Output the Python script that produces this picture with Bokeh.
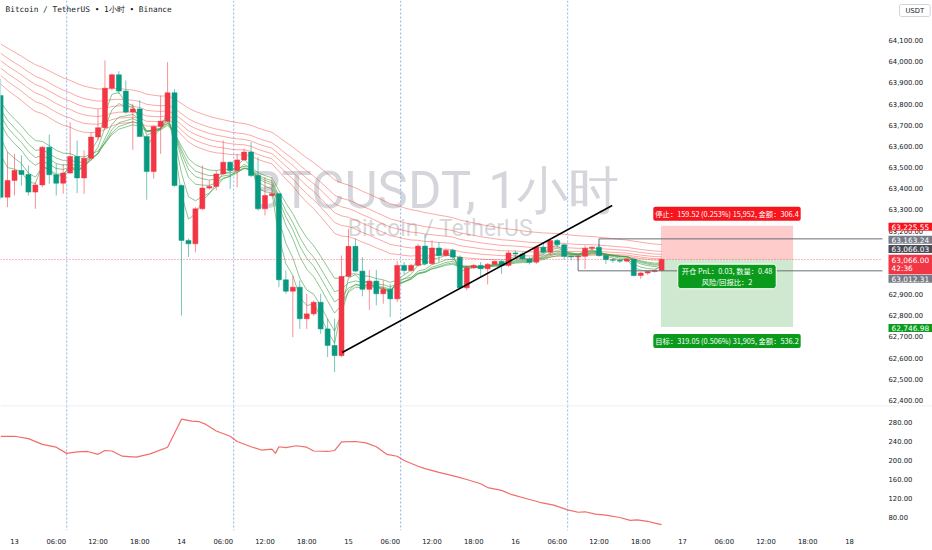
from bokeh.plotting import figure
from bokeh.models import (
    ColumnDataSource, Label, Span, Range1d, FixedTicker,
    NumeralTickFormatter,
)
from bokeh.layouts import column
from bokeh.embed import file_html
from bokeh.resources import INLINE


# ── Data (1h candles, hour 0 = day 13 00:00) ─────────────────────
hours = list(range(-2, 94))
opens = [
    63840, 63360, 63439, 63486, 63467, 63384, 63418, 63596, 63466, 63426, 63474, 63552,
    63451, 63544, 63644, 63688, 63875, 63938, 63861, 63762, 63777, 63647, 63481, 63694,
    63719, 63853, 63415, 63156, 63140, 63305, 63403, 63411, 63470, 63525, 63486, 63536,
    63573, 63462, 63305, 63368, 63376, 62970, 62916, 62935, 62786, 62809, 62864, 62738,
    62660, 62612, 62986, 63128, 63011, 62925, 62964, 62904, 62925, 62880, 63038, 63014,
    63038, 63129, 63046, 63120, 63085, 63109, 63077, 62932, 63027, 63038, 63022, 63043,
    63057, 63038, 63097, 63092, 63069, 63053, 63124, 63100, 63155, 63135, 63081, 63078,
    63081, 63119, 63124, 63084, 63065, 63062, 63058, 63068, 62990, 63002, 63009, 63014,
]
highs = [
    63920, 63573, 63565, 63557, 63510, 63431, 63600, 63656, 63518, 63518, 63714, 63628,
    63581, 63667, 63777, 64006, 63943, 63955, 63911, 63801, 63817, 63651, 63699, 63840,
    63998, 63870, 63420, 63165, 63313, 63510, 63439, 63486, 63628, 63530, 63565, 63588,
    63620, 63549, 63455, 63455, 63380, 63014, 62990, 62967, 62904, 62872, 62904, 62786,
    62786, 63085, 63211, 63164, 63077, 63017, 63017, 62967, 62950, 63058, 63054, 63045,
    63140, 63184, 63156, 63148, 63117, 63117, 63085, 63038, 63046, 63054, 63049, 63062,
    63062, 63108, 63108, 63100, 63077, 63131, 63147, 63163, 63163, 63140, 63085, 63090,
    63132, 63128, 63140, 63090, 63072, 63070, 63072, 63070, 63008, 63012, 63018, 63070,
]
lows = [
    63350, 63313, 63368, 63415, 63368, 63305, 63407, 63423, 63368, 63376, 63470, 63379,
    63376, 63533, 63628, 63683, 63864, 63848, 63754, 63584, 63644, 63348, 63447, 63565,
    63714, 63410, 62801, 63077, 63100, 63300, 63395, 63392, 63465, 63399, 63407, 63530,
    63455, 63297, 63274, 63360, 62935, 62904, 62699, 62738, 62738, 62800, 62715, 62605,
    62534, 62605, 62980, 63006, 62892, 62828, 62849, 62857, 62794, 62865, 62995, 63006,
    63033, 63038, 63042, 63054, 63077, 63061, 62928, 62920, 63020, 62983, 62948, 63040,
    62998, 63030, 63076, 63060, 63042, 63045, 63092, 63085, 63124, 63065, 63061, 63060,
    63021, 63110, 63080, 63045, 63050, 63050, 63052, 62985, 62974, 62994, 63004, 63010,
]
closes = [
    63360, 63439, 63486, 63467, 63384, 63418, 63596, 63466, 63426, 63474, 63552, 63451,
    63544, 63644, 63688, 63875, 63938, 63861, 63762, 63777, 63647, 63481, 63694, 63719,
    63853, 63415, 63156, 63140, 63305, 63403, 63411, 63470, 63525, 63486, 63536, 63573,
    63462, 63305, 63368, 63376, 62970, 62916, 62935, 62786, 62809, 62864, 62738, 62660,
    62612, 62986, 63128, 63011, 62925, 62964, 62904, 62925, 62880, 63038, 63014, 63038,
    63129, 63046, 63120, 63085, 63109, 63077, 62932, 63027, 63038, 63022, 63043, 63057,
    63038, 63097, 63092, 63069, 63053, 63124, 63100, 63155, 63135, 63081, 63078, 63081,
    63119, 63124, 63084, 63065, 63062, 63058, 63068, 62990, 63002, 63009, 63014, 63066,
]

# GMMA ribbon: periods and their values at the first visible bar
fast_periods = [3, 5, 8, 10, 12, 15]
fast_seeds = [63560, 63640, 63710, 63745, 63775, 63810]
slow_periods = [30, 35, 40, 45, 50, 60]
slow_seeds = [63895, 63935, 63970, 64005, 64040, 64085]

# lower pane indicator (hour, value)
ind_hours = [-2, 0, 2, 4, 6, 7.5, 9, 10.5, 12, 13, 14, 15.5, 17.5, 19.5, 22, 24, 25.5,
             26.5, 27.5, 29, 31, 32, 34, 35.5, 37, 37.5, 38, 39, 40.5, 42, 43, 45, 46,
             47, 49, 50.5, 52, 53.5, 55, 56, 58, 59, 61, 63.5, 65, 67, 68, 70, 71.5,
             73.5, 75.5, 77.5, 79.5, 81, 82, 83.5, 85, 87, 88.5, 89.5, 91, 92, 93]
ind_values = [251, 251, 246, 234, 228, 215, 218, 219, 213, 221, 220, 209, 207, 214, 228,
              287, 283, 282, 276, 262, 251, 240, 229, 222, 224, 215, 229, 227, 231, 228,
              220, 219, 221, 239, 240, 237, 229, 213, 209, 200, 188, 183, 175, 166, 160,
              151, 143, 137, 128, 120, 112, 106, 96, 91, 92, 87, 85, 80, 74, 75, 72, 68, 65]
ind_ticks = [80, 120, 160, 200, 240, 280]

# scale ticks; 63,000 and 63,100 sit under the badges and are not shown
hidden_ticks = [63000, 63100]
price_ticks = [t for t in range(62400, 64101, 100) if t not in hidden_ticks]
session_breaks = [7.5, 31.5, 55.5, 79.5]
tick_hours = list(range(0, 121, 6))
day_names = ['13', '14', '15', '16', '17', '18']

trend_hours = [47.1, 85.9]
trend_prices = [62627, 63321]

# short position tool
entry_price = 63066.03
stop_price = 63225.55
target_price = 62746.98
pos_start, pos_end = 92.9, 111.9

# horizontal rays (start hour, level, anchor price)
ray_start = [84, 81]
ray_level = [63163.24, 63012.31]
ray_anchor = [63124, 63081]

last_price = 63066.00
countdown = '42:36'

# price scale badges: value, colour, vertical nudge (px)
badge_values = [63225.55, 63163.24, 63066.03, 63066.00, 63012.31, 62746.98]
badge_colors = ['#f7141c', '#787b86', '#4a4d57', '#f23645', '#787b86', '#0a9b1c']
badge_nudge = [-1, -1, 10.5, -5, -8, -1]

# ── Theme / geometry ─────────────────────────────────────────────
UP = '#f23645'
DOWN = '#089981'
TXT = '#131722'
W = 932
PX_PER_H = 6.958
X0 = -14 / PX_PER_H
XE = (882 - 14) / PX_PER_H       # where the price scale column starts
X1 = (W - 14) / PX_PER_H         # frame spans the price scale column too
P0, P1 = 62376.4, 64288.8


def ema(values, period, seed):
    k = 2 / (period + 1)
    out = [seed]
    for v in values[1:]:
        out.append(out[-1] + k * (v - out[-1]))
    return out


def _style(fig):
    # scale labels are pulled back over the frame so badges can sit beside them
    for ax in fig.yaxis:
        ax.axis_line_color = None
        ax.major_tick_line_color = None
        ax.minor_tick_line_color = None
        ax.major_tick_out = 0
        ax.major_tick_in = 0
        ax.major_label_text_font = 'DejaVu Sans'
        ax.major_label_text_font_size = '6.8px'
        ax.major_label_text_color = TXT
        ax.major_label_standoff = -44
    fig.xgrid.visible = False
    fig.ygrid.visible = False
    fig.outline_line_color = None
    fig.background_fill_color = 'white'
    fig.border_fill_color = 'white'


# ── Price pane ───────────────────────────────────────────────────
p = figure(
    width=W, height=405,
    x_range=Range1d(X0, X1), y_range=Range1d(P0, P1),
    y_axis_location='right', x_axis_location=None,
    toolbar_location=None, output_backend='svg',
    min_border_left=0, min_border_top=0, min_border_bottom=0, min_border_right=0,
)
_style(p)
p.yaxis.ticker = FixedTicker(ticks=price_ticks)
p.yaxis.formatter = NumeralTickFormatter(format='0,0.00')

# watermark
p.add_layout(Label(x=60.4, y=63392, text='BTCUSDT, 1小时', text_align='center',
                   text_baseline='middle', text_font='Roboto', text_font_size='51px',
                   text_color='#b2b5be', text_alpha=0.55, level='underlay'))
p.add_layout(Label(x=61.2, y=63212, text='Bitcoin / TetherUS', text_align='center',
                   text_baseline='middle', text_font='Roboto', text_font_size='23px',
                   text_color='#b2b5be', text_alpha=0.55, level='underlay'))

for h in session_breaks:
    p.add_layout(Span(location=h, dimension='height', line_color='#8fb2ee',
                      line_dash='2 2', line_width=1, level='underlay'))

# position boxes
p.quad(left=[pos_start], right=[pos_end], bottom=[entry_price], top=[stop_price],
       fill_color='#ff0000', fill_alpha=0.2, line_color=None)
p.quad(left=[pos_start], right=[pos_end], bottom=[target_price], top=[entry_price],
       fill_color='#4caf50', fill_alpha=0.27, line_color=None)

# ribbon
for per, seed in zip(slow_periods, slow_seeds):
    p.line(hours, ema(closes, per, seed), line_color='#f44336', line_alpha=0.45, line_width=1)
for per, seed in zip(fast_periods, fast_seeds):
    p.line(hours, ema(closes, per, seed), line_color='#43a047', line_alpha=0.6, line_width=1)

# candles
colors = [UP if c >= o else DOWN for o, c in zip(opens, closes)]
src = ColumnDataSource(data=dict(
    x=hours, o=opens, h=highs, l=lows, c=closes,
    top=[max(o, c) for o, c in zip(opens, closes)],
    bottom=[min(o, c) for o, c in zip(opens, closes)],
    color=colors,
))
p.segment('x', 'h', 'x', 'l', source=src, line_color='color', line_alpha=0.55, line_width=1)
p.vbar(x='x', top='top', bottom='bottom', width=0.72, source=src,
       fill_color='color', line_color='color', line_width=0.5)

# price line
p.segment(x0=[X0], y0=[last_price], x1=[XE], y1=[last_price], line_color=UP,
          line_dash='1 2', line_width=1, line_alpha=0.7)

# rays
p.segment(x0=ray_start, y0=ray_level, x1=[XE] * len(ray_start), y1=ray_level,
          line_color='#6a6d78', line_width=1)
p.segment(x0=ray_start, y0=ray_level, x1=ray_start, y1=ray_anchor,
          line_color='#6a6d78', line_width=1)

# trend line
p.line(trend_hours, trend_prices, line_color='black', line_width=1.6)

# position labels
mid = (pos_start + pos_end) / 2
stop_pts = stop_price - entry_price
tgt_pts = entry_price - target_price
p.add_layout(Label(
    x=mid, y=stop_price, y_offset=12,
    text=f'停止：{stop_pts:.2f} ({stop_pts / entry_price * 100:.3f}%) 15,952, 金额：306.4',
    text_align='center', text_baseline='middle', text_font='Noto Sans CJK SC',
    text_font_size='7.3px', text_color='white', background_fill_color='#f7141c',
    padding=2, border_radius=2))
p.add_layout(Label(
    x=mid, y=target_price, y_offset=-14,
    text=f'目标：{tgt_pts:.2f} ({tgt_pts / entry_price * 100:.3f}%) 31,905, 金额：536.2',
    text_align='center', text_baseline='middle', text_font='Noto Sans CJK SC',
    text_font_size='7.3px', text_color='white', background_fill_color='#0a9b1c',
    padding=2, border_radius=2))
p.add_layout(Label(
    x=mid, y=entry_price, y_offset=-17,
    text=f'开仓 PnL：0.03, 数量：0.48\n风险/回报比：{tgt_pts / stop_pts:.0f}',
    text_align='center', text_baseline='middle', text_font='Noto Sans CJK SC',
    text_font_size='7.3px', text_color='white', text_line_height=1.05,
    background_fill_color='#0a9b1c', border_line_color='white', border_line_width=1,
    padding=(4, 2), border_radius=3))

# legend + currency box
p.add_layout(Label(x=X0, y=P1, x_offset=5, y_offset=-9, text='Bitcoin / TetherUS • 1小时 • Binance',
                   text_align='left', text_baseline='middle', text_font='DejaVu Sans Mono',
                   text_font_size='7.8px', text_color=TXT))
p.add_layout(Label(x=XE, y=P1, x_offset=17, y_offset=-10, text='USDT',
                   text_align='left', text_baseline='middle', text_font='DejaVu Sans',
                   text_font_size='6.8px', text_color=TXT, background_fill_color='white',
                   border_line_color='#d1d4dc', border_line_width=1, padding=(6, 2),
                   border_radius=2))

# price scale badges
for val, col, nudge in zip(badge_values, badge_colors, badge_nudge):
    txt = f'{val:,.2f}'
    if val == last_price and col == UP:
        txt = txt + '\n' + countdown
    p.add_layout(Label(x=XE, y=val, x_offset=6, y_offset=nudge, text=txt,
                       text_align='left', text_baseline='middle', text_font='DejaVu Sans',
                       text_font_size='7.4px', text_color='white', text_line_height=0.95,
                       background_fill_color=col, padding=(3, 1)))

# ── Lower pane ───────────────────────────────────────────────────
q = figure(
    width=W, height=145,
    x_range=p.x_range, y_range=Range1d(52.6, 315.8),
    y_axis_location='right', x_axis_location='below',
    toolbar_location=None, output_backend='svg',
    min_border_left=0, min_border_top=0, min_border_bottom=20, min_border_right=0,
)
_style(q)
q.yaxis.ticker = FixedTicker(ticks=ind_ticks)
q.yaxis.formatter = NumeralTickFormatter(format='0.00')
q.xaxis.ticker = FixedTicker(ticks=tick_hours)
q.xaxis.major_label_overrides = {
    h: (day_names[h // 24] if h % 24 == 0 else f'{h % 24:02d}:00') for h in tick_hours
}
q.xaxis.axis_line_color = None
q.xaxis.major_tick_line_color = None
q.xaxis.minor_tick_line_color = None
q.xaxis.major_tick_out = 0
q.xaxis.major_label_text_font = 'DejaVu Sans'
q.xaxis.major_label_text_font_size = '6.8px'
q.xaxis.major_label_text_color = TXT
q.xaxis.major_label_standoff = 7

for h in session_breaks:
    q.add_layout(Span(location=h, dimension='height', line_color='#8fb2ee',
                      line_dash='2 2', line_width=1, level='underlay'))
q.segment(x0=[X0], y0=[315.3], x1=[X1], y1=[315.3], line_color='#e0e3eb', line_width=1)

q.line(ind_hours, ind_values, line_color='#ef5350', line_alpha=0.85, line_width=1.2)

layout = column(p, q, spacing=0)
open('out.html', 'w').write(file_html(layout, INLINE))
